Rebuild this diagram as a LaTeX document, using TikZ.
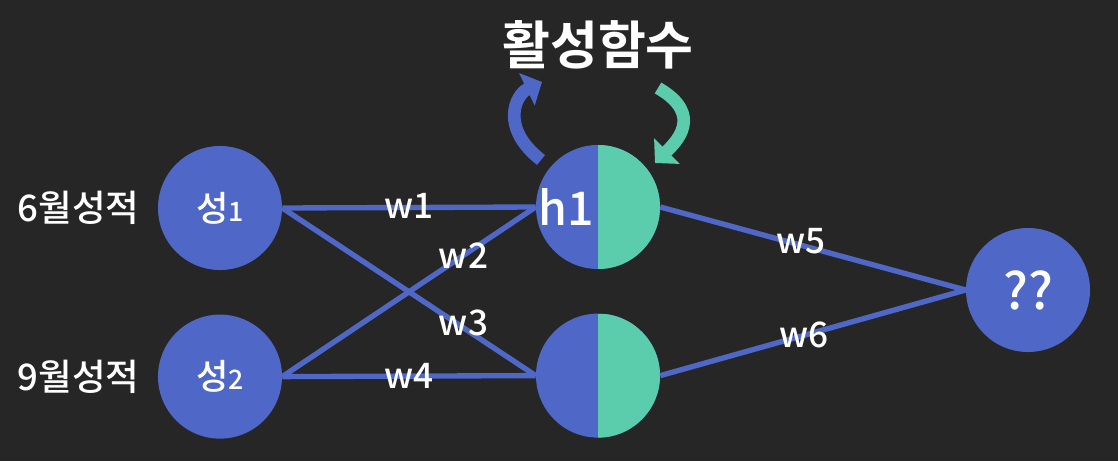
\documentclass[tikz,border=0pt]{standalone}
\usepackage{fontspec}
\setmainfont{Noto Sans CJK KR Medium}[BoldFont={Noto Sans CJK KR Bold}]
\usetikzlibrary{arrows.meta, positioning}
\definecolor{bgdark}{HTML}{262626}
\definecolor{nblue}{HTML}{4F67C7}
\definecolor{ngreen}{HTML}{5BCDAD}
\tikzset{
    neuron/.style={
        circle,
        fill=nblue,
        minimum size=3.1cm,
        inner sep=0pt,
        text=white,
        font=\fontsize{25}{25}\selectfont
    },
    hiddenneuron/.style={
        neuron,
        path picture={\fill[ngreen] (path picture bounding box.north) rectangle (path picture bounding box.south east);}
    },
    synapse/.style={
        draw=nblue,
        line width=3.8pt
    },
    weight/.style={
        text=white,
        inner sep=0pt,
        font=\fontsize{25}{25}\selectfont
    },
    sidelabel/.style={
        text=white,
        inner sep=0pt,
        font=\fontsize{26}{26}\selectfont
    },
    actarrow/.style={
        line width=9pt,
        -{Triangle[length=0.42cm, width=0.88cm]}
    }
}

\begin{document}
\begin{tikzpicture}[x=0.025cm, y=-0.025cm]

% Background
\fill[bgdark] (0,0) rectangle (1118,461);
\useasboundingbox (0,0) rectangle (1118,461);

% Input neurons
\node[neuron] (s1) at (220,208) {성{\fontsize{19}{19}\selectfont 1}};
\node[neuron, below=1.1cm of s1] (s2) {성{\fontsize{19}{19}\selectfont 2}};
\node[sidelabel, left=0.45cm of s1] (s1lbl) {6월성적};
\node[sidelabel, left=0.45cm of s2] (s2lbl) {9월성적};

% Hidden neurons
\node[hiddenneuron] (h1) at (598,207) {};
\node[hiddenneuron, below=1.1cm of h1] (h2) {};
\node[text=white, inner sep=0pt, font=\fontsize{33}{33}\selectfont] (h1lbl) at ([xshift=-0.8cm]h1.center) {h1};

% Output neuron
\node[neuron, font=\fontsize{36}{36}\selectfont] (out) at (1028,290) {??};

% Connections
\draw[synapse] (s1.east) -- node[weight, pos=0.5, yshift=0.05cm] {w1} (h1.west);
\draw[synapse] (s2.east) -- node[weight, pos=0.715] {w2} (h1.west);
\draw[synapse] (s1.east) -- node[weight, pos=0.715, yshift=0.12cm] {w3} (h2.west);
\draw[synapse] (s2.east) -- node[weight, pos=0.5] {w4} (h2.west);
\draw[synapse] (h1.east) -- node[weight, pos=0.46, yshift=0.1cm] {w5} (out.west);
\draw[synapse] (h2.east) -- node[weight, pos=0.47] {w6} (out.west);

% Activation function
\node[text=white, font=\bfseries\fontsize{37}{37}\selectfont] (act) at (598,45) {활성함수};
\coordinate (actout) at (541,160);
\coordinate (actup) at (542,82);
\coordinate (actdown) at (658,88);
\coordinate (actin) at (655,163);
\draw[actarrow, nblue] (actout) .. controls (500,128) and (515,95) .. (actup);
\draw[actarrow, ngreen] (actdown) .. controls (705,115) and (675,143) .. (actin);

\end{tikzpicture}
\end{document}
